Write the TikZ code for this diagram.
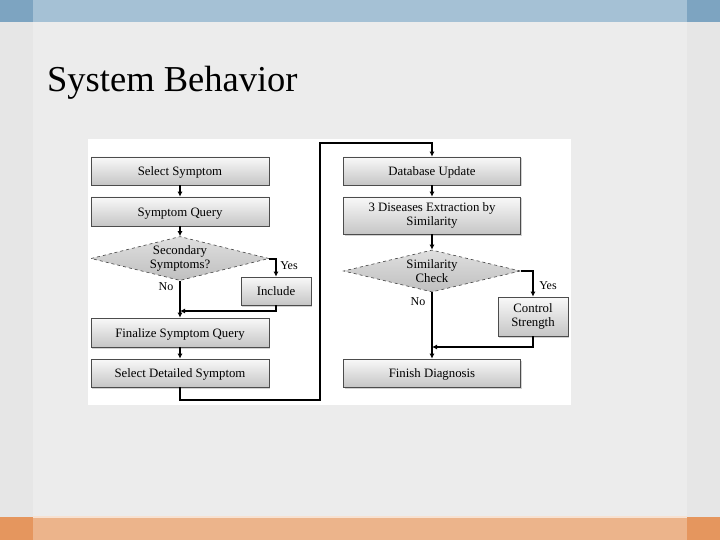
\documentclass[tikz,border=0pt]{standalone}
\usepackage{fontspec}
\setmainfont{Liberation Serif}
\usetikzlibrary{shapes.geometric,arrows.meta,positioning,shadows}
\definecolor{bgout}{HTML}{E6E6E6}
\definecolor{bgin}{HTML}{ECECEC}
\definecolor{topout}{HTML}{7DA4C1}
\definecolor{topin}{HTML}{A5C1D5}
\definecolor{botout}{HTML}{E5965E}
\definecolor{botin}{HTML}{ECB48B}
\tikzset{
  fbox/.style={rectangle, draw=black!70, line width=0.6pt, top color=gray!5, bottom color=gray!45,
    drop shadow={shadow xshift=1pt, shadow yshift=-1.5pt, opacity=0.35},
    minimum width=178pt, inner sep=1pt, align=center, font=\fontsize{12.8}{14}\selectfont},
  onebox/.style={fbox, text height=10pt, text depth=0.5pt},
  dbox/.style={diamond, draw=black!75, dashed, line width=0.6pt, top color=gray!25, bottom color=gray!50,
    aspect=4, inner sep=0pt, align=center, font=\fontsize{12.8}{14}\selectfont},
  arr/.style={line width=2pt, -{Latex[length=5pt,width=5pt]}},
  lbl/.style={font=\fontsize{12}{13}\selectfont, inner sep=0pt}
}
\begin{document}
\begin{tikzpicture}[x=1pt,y=-1pt]
\useasboundingbox (0,0) rectangle (720,540);
% background
\fill[bgout] (0,0) rectangle (720,540);
\fill[bgin] (33,0) rectangle (687,540);
\fill[topout] (0,0) rectangle (720,22);
\fill[topin] (33,0) rectangle (687,22);
\fill[botout] (0,517) rectangle (720,540);
\fill[botin] (33,517) rectangle (687,540);
\fill[white!60!botin] (33,516) rectangle (687,517.5);
% title
\node[anchor=base west, inner sep=0pt, font=\fontsize{36.5}{40}\selectfont] (title) at (47,92) {System Behavior};
% panel
\fill[white] (88,139) rectangle (571,405);
% left column
\node[onebox, minimum height=28pt] (ss) at (180,171) {Select Symptom};
\node[onebox, minimum height=29pt] (sq) at (180,211.5) {Symptom Query};
\node[dbox, minimum width=178pt, minimum height=44pt] (sec) at (180,258.5) {Secondary\\Symptoms?};
\node[onebox, minimum width=70pt, minimum height=28pt] (inc) at (276,291) {Include};
\node[onebox, minimum height=29pt] (fsq) at (180,332.5) {Finalize Symptom Query};
\node[onebox, minimum height=28pt] (sds) at (180,373) {Select Detailed Symptom};
% right column
\node[onebox, minimum width=177pt, minimum height=28pt] (du) at (432,171) {Database Update};
\node[fbox, minimum width=177pt, minimum height=37pt] (dex) at (432,215.5) {3 Diseases Extraction by\\Similarity};
\node[dbox, minimum width=177pt, minimum height=42pt] (sim) at (432,271) {Similarity\\Check};
\node[fbox, minimum width=70pt, minimum height=39pt] (cs) at (533,316.5) {Control\\Strength};
\node[onebox, minimum width=177pt, minimum height=28pt] (fd) at (432,373) {Finish Diagnosis};
% labels
\node[lbl] (yes1) at (289,266) {Yes};
\node[lbl] (no1) at (166,287) {No};
\node[lbl] (yes2) at (548,286) {Yes};
\node[lbl] (no2) at (418,302) {No};
% coordinates
\coordinate (j1) at (180,311);
\coordinate (j2) at (432,347);
\coordinate (c1) at (320,400);
\coordinate (c2) at (320,143);
% connectors
\draw[arr] (ss.south) -- (sq.north);
\draw[arr] (sq.south) -- (sec.north);
\draw[arr] (sec.east) -| (inc.north);
\draw[arr] (sec.south) -- (fsq.north);
\draw[arr] (inc.south) |- (j1);
\draw[arr] (fsq.south) -- (sds.north);
\draw[arr] (sds.south) |- (c1) -- (c2) -| (du.north);
\draw[arr] (du.south) -- (dex.north);
\draw[arr] (dex.south) -- (sim.north);
\draw[arr] (sim.east) -| (cs.north);
\draw[arr] (sim.south) -- (fd.north);
\draw[arr] (cs.south) |- (j2);
\end{tikzpicture}
\end{document}
